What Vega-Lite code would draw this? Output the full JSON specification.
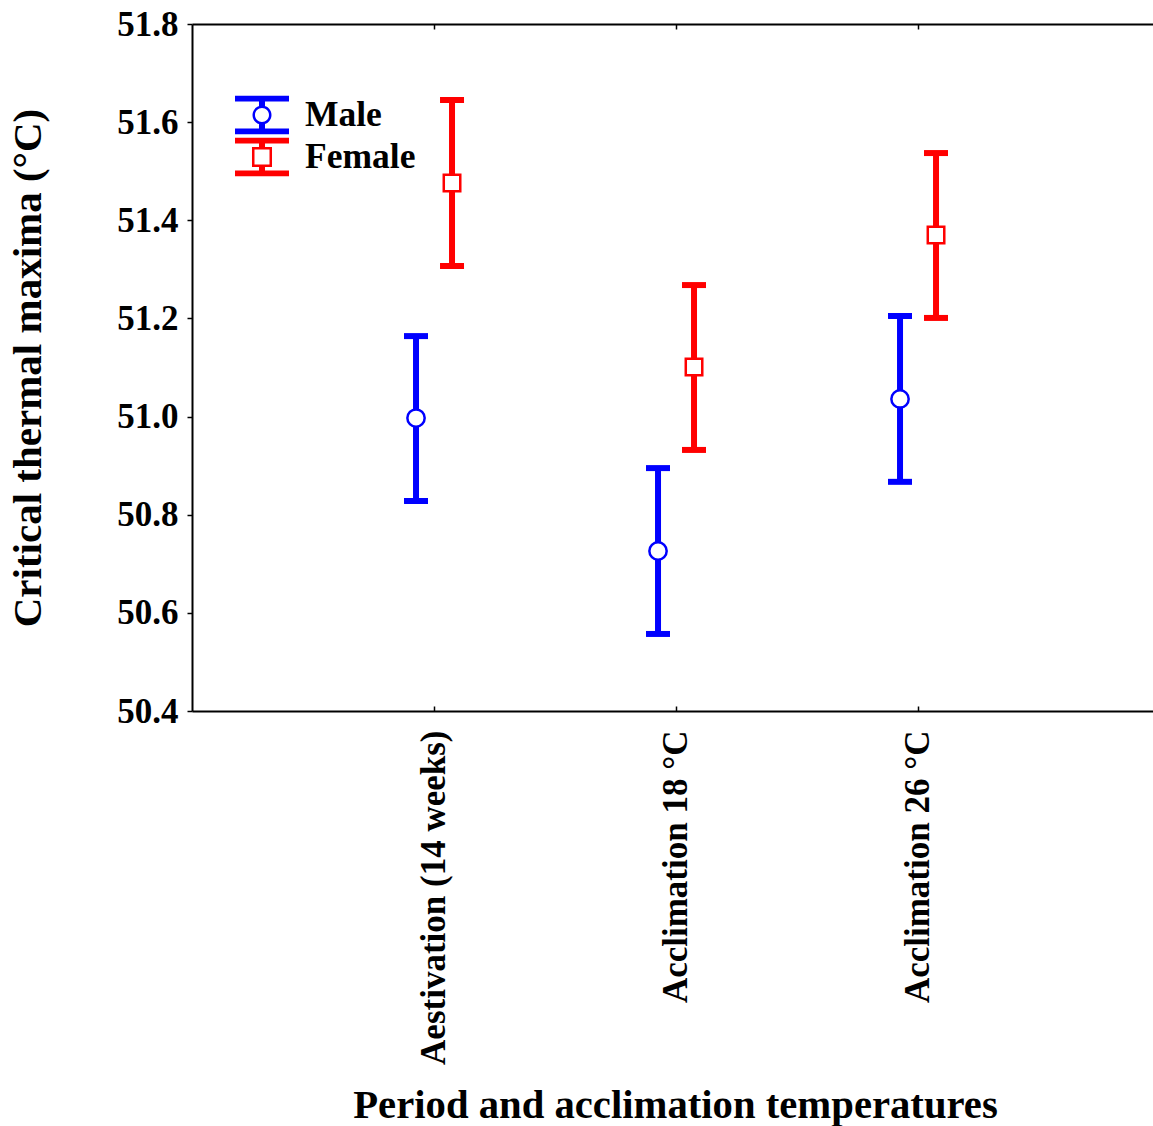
{
  "$schema": "https://vega.github.io/schema/vega-lite/v6.json",
  "width": 961,
  "height": 687,
  "autosize": {"type": "none"},
  "padding": {"left": 192, "top": 24, "right": 0, "bottom": 415},
  "background": "white",
  "config": {
    "view": {"stroke": null},
    "font": "Liberation Serif"
  },
  "data": {
    "values": [
      {"period": "Aestivation (14 weeks)", "sex": "Male", "mean": 50.997, "lo": 50.828, "hi": 51.164},
      {"period": "Aestivation (14 weeks)", "sex": "Female", "mean": 51.476, "lo": 51.307, "hi": 51.645},
      {"period": "Acclimation 18 °C", "sex": "Male", "mean": 50.726, "lo": 50.557, "hi": 50.895},
      {"period": "Acclimation 18 °C", "sex": "Female", "mean": 51.101, "lo": 50.932, "hi": 51.268},
      {"period": "Acclimation 26 °C", "sex": "Male", "mean": 51.036, "lo": 50.867, "hi": 51.205},
      {"period": "Acclimation 26 °C", "sex": "Female", "mean": 51.37, "lo": 51.201, "hi": 51.537}
    ]
  },
  "encoding": {
    "x": {
      "field": "period", "type": "nominal",
      "sort": ["Aestivation (14 weeks)", "Acclimation 18 °C", "Acclimation 26 °C"],
      "scale": {"type": "band", "paddingInner": 0, "paddingOuter": 0.4855, "align": 0.515},
      "axis": null
    },
    "xOffset": {
      "field": "sex", "type": "nominal", "sort": ["Male", "Female"],
      "scale": {"type": "band", "range": [85, 157], "paddingInner": 0, "paddingOuter": 0}
    },
    "color": {
      "field": "sex", "type": "nominal",
      "scale": {"domain": ["Male", "Female"], "range": ["#0000ff", "#ff0000"]},
      "legend": {
        "title": null,
        "orient": "none",
        "legendX": 52,
        "legendY": 73,
        "padding": 0,
        "labelFont": "Liberation Serif",
        "labelFontSize": 35.5,
        "labelFontWeight": "bold",
        "labelColor": "black",
        "labelOffset": 25,
        "rowPadding": 2,
        "symbolSize": 1296,
        "encode": {
          "symbols": {
            "update": {
              "shape": {"signal": "datum.value === 'Male' ? 'M-1.5,-1.067H1.5V-0.75H-1.5Z M-1.5,0.75H1.5V1.067H-1.5Z M-0.167,-0.75H0.167V-0.45H-0.167Z M-0.167,0.45H0.167V0.75H-0.167Z M0.528,0A0.528,0.528 0 1,1 -0.528,0A0.528,0.528 0 1,1 0.528,0Z M0.389,0A0.389,0.389 0 1,0 -0.389,0A0.389,0.389 0 1,0 0.389,0Z' : 'M-1.5,-1.067H1.5V-0.75H-1.5Z M-1.5,0.75H1.5V1.067H-1.5Z M-0.167,-0.75H0.167V-0.556H-0.167Z M-0.167,0.556H0.167V0.75H-0.167Z M-0.556,-0.556H0.556V0.556H-0.556Z M-0.417,-0.417V0.417H0.417V-0.417Z'"},
              "fill": {"signal": "scale('color', datum.value)"},
              "fillOpacity": {"value": 1},
              "opacity": {"value": 1},
              "strokeWidth": {"value": 0},
              "size": {"value": 1296}
            }
          }
        }
      }
    }
  },
  "resolve": {"axis": {"x": "independent"}},
  "layer": [
    {
      "mark": {"type": "rule", "strokeWidth": 6},
      "encoding": {
        "x": {
          "field": "period", "type": "nominal",
          "sort": ["Aestivation (14 weeks)", "Acclimation 18 °C", "Acclimation 26 °C"],
          "scale": {"type": "band", "paddingInner": 0, "paddingOuter": 0.4855, "align": 0.515},
          "axis": {
            "orient": "bottom",
            "labelAngle": -90,
            "labelFont": "Liberation Serif",
            "labelFontSize": 35,
            "labelFontWeight": "bold",
            "labelColor": "black",
            "labelLimit": 0,
            "labelPadding": 24,
            "tickSize": -5,
            "tickColor": "black",
            "tickWidth": 1.5,
            "domainColor": "black",
            "domainWidth": 2,
            "grid": false,
            "title": "Period and acclimation temperatures",
            "titleFont": "Liberation Serif",
            "titleFontSize": 40.7,
            "titleFontWeight": "bold",
            "titleColor": "black",
            "titleBaseline": "alphabetic",
            "titleX": 483,
            "titleY": 406
          }
        },
        "y": {
          "field": "lo", "type": "quantitative",
          "scale": {"domain": [50.4, 51.8], "nice": false, "zero": false},
          "axis": {
            "values": [50.4, 50.6, 50.8, 51.0, 51.2, 51.4, 51.6, 51.8],
            "format": ".1f",
            "labelFont": "Liberation Serif",
            "labelFontSize": 35,
            "labelFontWeight": "bold",
            "labelColor": "black",
            "labelPadding": 9,
            "tickSize": 5,
            "tickColor": "black",
            "tickWidth": 1.5,
            "domainColor": "black",
            "domainWidth": 2,
            "grid": false,
            "title": "Critical thermal maxima (°C)",
            "titleFont": "Liberation Serif",
            "titleFontSize": 41,
            "titleFontWeight": "bold",
            "titleColor": "black",
            "titlePadding": 67
          }
        },
        "y2": {"field": "hi"}
      }
    },
    {
      "mark": {"type": "tick", "size": 24, "thickness": 6, "opacity": 1},
      "encoding": {
        "x": {
          "field": "period", "type": "nominal",
          "sort": ["Aestivation (14 weeks)", "Acclimation 18 °C", "Acclimation 26 °C"],
          "scale": {"type": "band", "paddingInner": 0, "paddingOuter": 0.4855, "align": 0.515},
          "axis": {
            "orient": "top",
            "labels": false,
            "title": null,
            "tickSize": -5,
            "tickColor": "black",
            "tickWidth": 1.5,
            "domainColor": "black",
            "domainWidth": 2,
            "grid": false
          }
        },
        "y": {"field": "hi", "type": "quantitative", "title": "Critical thermal maxima (°C)"}
      }
    },
    {
      "mark": {"type": "tick", "size": 24, "thickness": 6, "opacity": 1},
      "encoding": {
        "y": {"field": "lo", "type": "quantitative", "title": "Critical thermal maxima (°C)"}
      }
    },
    {
      "transform": [{"filter": "datum.sex === 'Male'"}],
      "mark": {"type": "point", "shape": "circle", "filled": false, "fill": "white", "strokeWidth": 2.5, "size": 300, "opacity": 1},
      "encoding": {
        "y": {"field": "mean", "type": "quantitative", "title": "Critical thermal maxima (°C)"}
      }
    },
    {
      "transform": [{"filter": "datum.sex === 'Female'"}],
      "mark": {"type": "point", "shape": "square", "filled": false, "fill": "white", "strokeWidth": 2.5, "size": 272, "opacity": 1},
      "encoding": {
        "y": {"field": "mean", "type": "quantitative", "title": "Critical thermal maxima (°C)"}
      }
    }
  ]
}
